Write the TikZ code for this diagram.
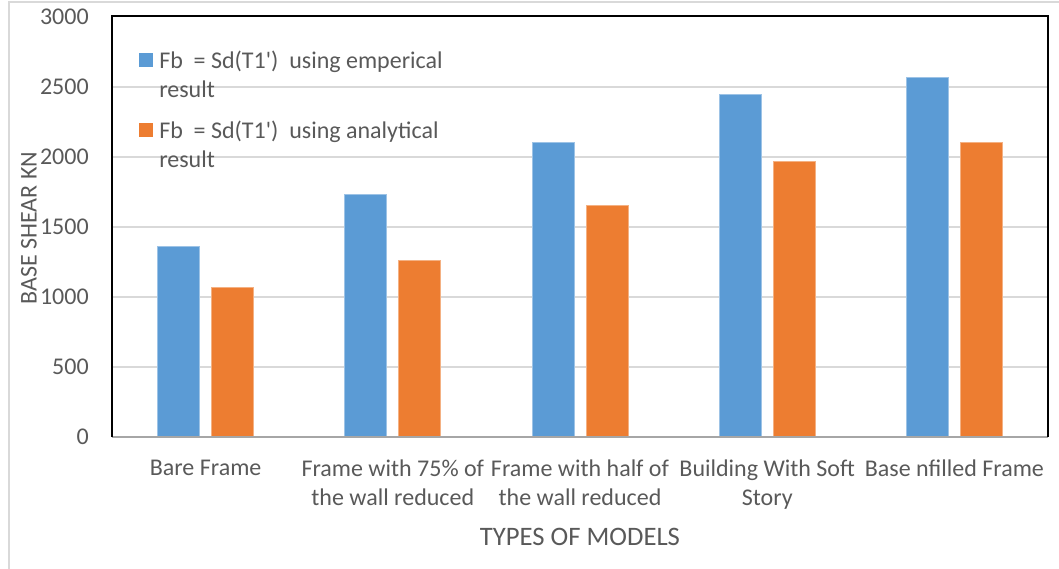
\documentclass[tikz,border=0pt]{standalone}
\usepackage{fontspec}
\setmainfont{Carlito}[Ligatures=TeXOff]
\usepackage{tikz}

\definecolor{empblue}{HTML}{5B9BD5}
\definecolor{anaorange}{HTML}{ED7D31}
\definecolor{txtgray}{HTML}{595959}
\definecolor{gridgray}{HTML}{D9D9D9}
\definecolor{axisgray}{HTML}{A6A6A6}

\tikzset{
	lbl/.style={text=txtgray, font=\fontsize{18}{21.75}\selectfont, inner sep=0pt},
	empbar/.style={fill=empblue, draw=empblue!60!white, line width=0.6pt},
	anabar/.style={fill=anaorange, draw=anaorange!60!white, line width=0.6pt},
}

\begin{document}
\begin{tikzpicture}[x=0.75pt,y=0.75pt]
	\useasboundingbox (0,0) rectangle (1059,568);
	
	%outer chart border
	\draw[gridgray, line width=1.5pt] (9,-10) -- (9,566) -- (1070,566);
	
	%plot area, data units
	\begin{scope}[shift={(112,131)}, x=140.4pt, y=0.105pt]
		%gridlines
		\foreach \v in {500,1000,...,2500}
			\draw[gridgray, line width=1.1pt] (0,\v) -- (5,\v);
		
		%bars
		\foreach \i/\e/\a in {1/1362/1066, 2/1736/1262, 3/2105/1655, 4/2450/1969, 5/2569/2102}{
			\draw[empbar] (\i-0.5-0.2565,0) rectangle (\i-0.5-0.0321,\e);
			\draw[anabar] (\i-0.5+0.0321,0) rectangle (\i-0.5+0.2565,\a);
		}
		
		%frame
		\draw[axisgray, line width=1.5pt] (0,0) -- (5,0);
		\draw[black, line width=1.5pt] (0,0) -- (0,3007) -- (5,3007) -- (5,0);
		
		%tick labels
		\foreach \v in {0,500,...,3000}
			\node[lbl, anchor=east, xshift=-17.25pt] (tick\v) at (0,\v) {\v};
		
		%category labels
		\node[lbl, anchor=north, align=center, yshift=-17.25pt] (cat1) at (0.5,0) {Bare Frame};
		\node[lbl, anchor=north, align=center, yshift=-17.25pt] (cat2) at (1.5,0) {Frame with 75\% of\\the wall reduced};
		\node[lbl, anchor=north, align=center, yshift=-17.25pt] (cat3) at (2.5,0) {Frame with half of\\the wall reduced};
		\node[lbl, anchor=north, align=center, yshift=-17.25pt] (cat4) at (3.5,0) {Building With Soft\\Story};
		\node[lbl, anchor=north, align=center, yshift=-17.25pt] (cat5) at (4.5,0) {Base nfilled Frame};
	\end{scope}
	
	%axis titles
	\node[lbl, rotate=90] (ytitle) at (29,340) {BASE SHEAR KN};
	\node[lbl, font=\fontsize{20}{24}\selectfont] (xtitle) at (580,31) {TYPES OF MODELS};
	
	%legend
	\fill[empblue] (139,501.3) rectangle (153,515.3);
	\node[lbl, anchor=north west, align=left] (legemp) at (159,517.5) {Fb~ = Sd(T1')~ using emperical\\result};
	\fill[anaorange] (139,431) rectangle (153,445);
	\node[lbl, anchor=north west, align=left] (legana) at (159,447.5) {Fb~ = Sd(T1')~ using analytical\\result};
\end{tikzpicture}
\end{document}
